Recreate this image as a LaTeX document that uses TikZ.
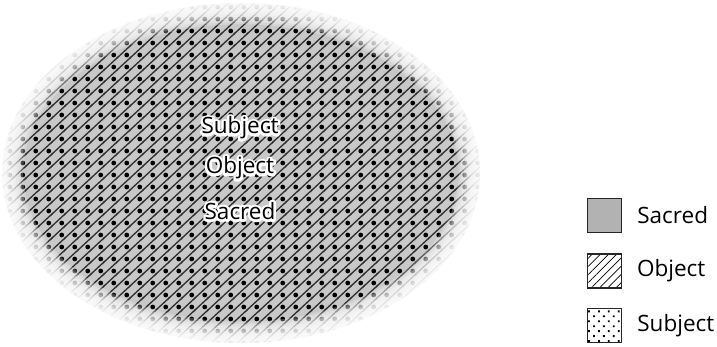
\documentclass[tikz,border=0pt]{standalone}
\definecolor{SacredGray}{RGB}{178,178,178}
\definecolor{FieldGray}{RGB}{200,200,200}
\definecolor{LineGray}{RGB}{45,45,45}
\usepackage{fontspec}
\setmainfont{Open Sans}
\usepackage{tikz}
\usetikzlibrary{positioning, patterns, patterns.meta}
\newcommand{\halotext}[1]{\leavevmode\rlap{\special{pdf:literal direct 1 Tr 5 w 1 j 1 G}#1\special{pdf:literal direct 0 Tr 0 G}}#1}
\pgfdeclarepatterninherentlycolored{fieldmarks}{\pgfpoint{-1pt}{-1pt}}{\pgfpoint{14pt}{13pt}}{\pgfpoint{13pt}{12pt}}{%
  \pgfsetstrokecolor{LineGray}\pgfsetfillcolor{black}%
  \pgfsetlinewidth{1.3pt}%
  \pgfpathmoveto{\pgfpoint{-1.3pt}{-1.2pt}}\pgfpathlineto{\pgfpoint{14.3pt}{13.2pt}}%
  \pgfusepath{stroke}%
  \pgfpathcircle{\pgfpoint{9.75pt}{3pt}}{2.4pt}\pgfusepath{fill}%
}

\begin{document}
\begin{tikzpicture}[x=1pt, y=-1pt,
    lbl/.style={font=\fontsize{22.5}{26}\selectfont, inner sep=0pt},
    legbox/.style={draw=black!85, line width=1.3pt, minimum size=34pt, inner sep=0pt},
    rimfade/.style={white, fill opacity=0.25, even odd rule}]
          \useasboundingbox (0,0) rectangle (717,346);
          \fill[FieldGray] (241,173) ellipse [x radius=239, y radius=170];
          \fill[pattern=fieldmarks] (241,173) ellipse [x radius=239, y radius=170];
          \foreach \i in {0,...,8}
            \fill[rimfade] (-5,-5) rectangle (500,351) (241,173) ellipse [x radius={237-2.4*\i}, y radius={168-2.4*\i}];
          \node[lbl] (lbl-subject) at (240,128) {\halotext{Subject}};
          \node[lbl] (lbl-object) at (240,168) {\halotext{Object}};
          \node[lbl] (lbl-sacred) at (240,211) {\halotext{Sacred}};
          \node[legbox, fill=SacredGray] (box-sacred) at (604.5,215.5) {};
          \node[legbox, pattern={Lines[angle=45, distance=5.8pt, line width=0.7pt]}] (box-object) at (604.5,271) {};
          \node[legbox, pattern={Dots[distance=7pt, radius=1.3pt, angle=45]}] (box-subject) at (604.5,325.5) {};
          \node[lbl, right=15pt of box-sacred] (key-sacred) {Sacred};
          \node[lbl, right=15pt of box-object] (key-object) {Object};
          \node[lbl, right=15pt of box-subject] (key-subject) {Subject};
        \end{tikzpicture}
\end{document}
